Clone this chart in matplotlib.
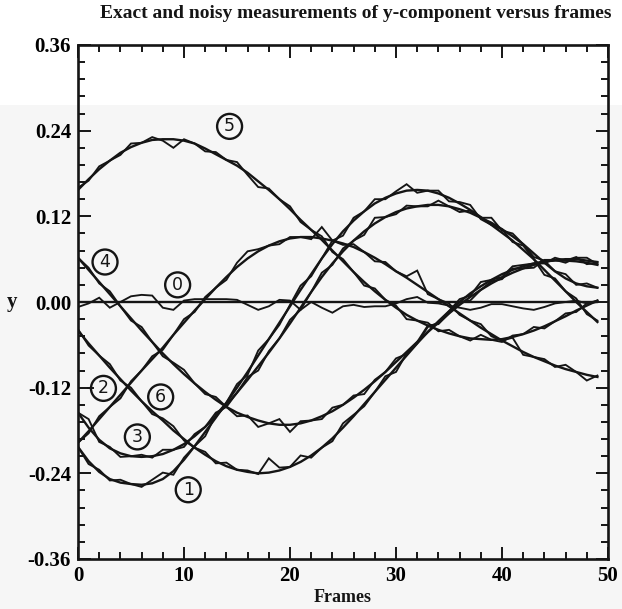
import matplotlib
matplotlib.use('Agg')
import matplotlib.pyplot as plt
from matplotlib.ticker import MultipleLocator
from matplotlib.patches import Rectangle

plt.rcParams['font.family'] = ['Liberation Serif', 'DejaVu Serif']
plt.rcParams['font.weight'] = 'bold'

# frame index for every sample
frames = list(range(50))

# exact y-component of the seven tracked points
exact_0 = [0.000, 0.000, 0.000, 0.000, 0.000, 0.000, 0.000, 0.000, 0.000, 0.000,
           0.000, 0.000, 0.000, 0.000, 0.000, 0.000, 0.000, 0.000, 0.000, 0.000,
           0.000, 0.000, 0.000, 0.000, 0.000, 0.000, 0.000, 0.000, 0.000, 0.000,
           0.000, 0.000, 0.000, 0.000, 0.000, 0.000, 0.000, 0.000, 0.000, 0.000,
           0.000, 0.000, 0.000, 0.000, 0.000, 0.000, 0.000, 0.000, 0.000, 0.000]
exact_1 = [-0.203, -0.223, -0.238, -0.248, -0.253, -0.255, -0.256, -0.254, -0.248, -0.237,
           -0.221, -0.202, -0.182, -0.162, -0.141, -0.120, -0.098, -0.075, -0.052, -0.029,
           -0.006, 0.017, 0.039, 0.061, 0.081, 0.099, 0.114, 0.127, 0.138, 0.146,
           0.152, 0.156, 0.157, 0.156, 0.152, 0.146, 0.138, 0.129, 0.119, 0.108,
           0.097, 0.086, 0.073, 0.060, 0.045, 0.030, 0.015, 0.000, -0.014, -0.028]
exact_2 = [-0.040, -0.058, -0.075, -0.092, -0.108, -0.124, -0.139, -0.153, -0.166, -0.180,
           -0.192, -0.204, -0.214, -0.223, -0.230, -0.235, -0.238, -0.240, -0.239, -0.236,
           -0.231, -0.224, -0.215, -0.204, -0.191, -0.176, -0.160, -0.143, -0.126, -0.109,
           -0.092, -0.075, -0.058, -0.042, -0.027, -0.013, 0.000, 0.012, 0.022, 0.031,
           0.039, 0.045, 0.050, 0.054, 0.057, 0.058, 0.058, 0.057, 0.055, 0.052]
exact_3 = [-0.155, -0.176, -0.193, -0.205, -0.212, -0.216, -0.217, -0.216, -0.213, -0.207,
           -0.199, -0.188, -0.175, -0.160, -0.144, -0.127, -0.109, -0.090, -0.071, -0.051,
           -0.030, -0.008, 0.014, 0.035, 0.054, 0.071, 0.086, 0.099, 0.110, 0.119,
           0.126, 0.131, 0.134, 0.136, 0.136, 0.134, 0.130, 0.125, 0.118, 0.111,
           0.102, 0.092, 0.081, 0.068, 0.055, 0.043, 0.033, 0.026, 0.022, 0.020]
exact_4 = [0.062, 0.045, 0.028, 0.011, -0.006, -0.023, -0.040, -0.056, -0.072, -0.087,
           -0.101, -0.114, -0.126, -0.137, -0.147, -0.155, -0.161, -0.166, -0.170, -0.172,
           -0.172, -0.170, -0.166, -0.160, -0.153, -0.144, -0.134, -0.123, -0.111, -0.098,
           -0.084, -0.070, -0.056, -0.042, -0.029, -0.016, -0.004, 0.007, 0.017, 0.026,
           0.034, 0.041, 0.047, 0.052, 0.056, 0.059, 0.060, 0.060, 0.058, 0.056]
exact_5 = [0.157, 0.172, 0.186, 0.198, 0.209, 0.217, 0.223, 0.227, 0.228, 0.228,
           0.226, 0.222, 0.215, 0.207, 0.199, 0.191, 0.181, 0.169, 0.157, 0.144,
           0.130, 0.115, 0.101, 0.087, 0.072, 0.057, 0.042, 0.028, 0.015, 0.003,
           -0.008, -0.018, -0.026, -0.033, -0.039, -0.044, -0.048, -0.051, -0.052, -0.053,
           -0.052, -0.049, -0.045, -0.040, -0.034, -0.027, -0.020, -0.012, -0.005, 0.002]
exact_6 = [-0.197, -0.181, -0.164, -0.147, -0.130, -0.113, -0.096, -0.080, -0.064, -0.046,
           -0.029, -0.012, 0.004, 0.020, 0.035, 0.049, 0.061, 0.071, 0.079, 0.085,
           0.089, 0.091, 0.091, 0.089, 0.086, 0.082, 0.077, 0.070, 0.062, 0.053,
           0.043, 0.034, 0.024, 0.014, 0.004, -0.006, -0.016, -0.026, -0.036, -0.045,
           -0.054, -0.062, -0.070, -0.077, -0.083, -0.089, -0.094, -0.098, -0.102, -0.105]

# noisy measurements of the same points
noisy_0 = [-0.007, -0.002, 0.006, -0.008, 0.000, 0.008, 0.010, 0.009, -0.008, -0.011,
           0.002, 0.004, 0.004, 0.004, 0.004, 0.003, -0.004, -0.011, -0.006, 0.003,
           0.002, -0.011, 0.000, -0.008, -0.015, -0.006, -0.004, -0.007, -0.006, -0.006,
           -0.002, 0.004, 0.007, -0.001, -0.002, -0.005, -0.008, -0.011, -0.008, -0.003,
           -0.003, -0.006, -0.009, -0.011, -0.007, -0.002, 0.000, 0.002, -0.002, 0.000]
noisy_1 = [-0.203, -0.227, -0.235, -0.250, -0.249, -0.255, -0.259, -0.249, -0.239, -0.242,
           -0.218, -0.202, -0.188, -0.158, -0.141, -0.115, -0.102, -0.068, -0.052, -0.032,
           -0.004, 0.023, 0.036, 0.061, 0.086, 0.093, 0.118, 0.127, 0.144, 0.144,
           0.155, 0.165, 0.153, 0.156, 0.156, 0.141, 0.140, 0.136, 0.116, 0.108,
           0.102, 0.084, 0.079, 0.060, 0.038, 0.033, 0.015, 0.005, -0.017, -0.026]
noisy_2 = [-0.038, -0.061, -0.075, -0.087, -0.110, -0.120, -0.139, -0.157, -0.163, -0.174,
           -0.194, -0.204, -0.210, -0.226, -0.225, -0.235, -0.236, -0.241, -0.219, -0.232,
           -0.231, -0.215, -0.218, -0.204, -0.195, -0.170, -0.158, -0.146, -0.126, -0.104,
           -0.098, -0.072, -0.058, -0.035, -0.029, -0.013, 0.004, 0.009, 0.028, 0.031,
           0.035, 0.050, 0.052, 0.054, 0.054, 0.062, 0.058, 0.063, 0.053, 0.055]
noisy_3 = [-0.155, -0.164, -0.196, -0.203, -0.217, -0.216, -0.214, -0.218, -0.207, -0.207,
           -0.203, -0.185, -0.175, -0.155, -0.147, -0.127, -0.105, -0.096, -0.069, -0.051,
           -0.025, -0.011, 0.014, 0.041, 0.052, 0.075, 0.086, 0.094, 0.118, 0.119,
           0.123, 0.135, 0.134, 0.134, 0.142, 0.134, 0.126, 0.128, 0.118, 0.118,
           0.100, 0.096, 0.081, 0.063, 0.058, 0.043, 0.039, 0.024, 0.026, 0.020]
noisy_4 = [0.062, 0.048, 0.026, 0.015, -0.006, -0.026, -0.035, -0.056, -0.076, -0.085,
           -0.095, -0.114, -0.129, -0.133, -0.147, -0.160, -0.159, -0.175, -0.170, -0.164,
           -0.182, -0.167, -0.166, -0.164, -0.148, -0.144, -0.131, -0.129, -0.109, -0.098,
           -0.079, -0.073, -0.056, -0.033, -0.031, -0.016, 0.000, 0.002, 0.017, 0.029,
           0.032, 0.047, 0.047, 0.048, 0.059, 0.059, 0.055, 0.062, 0.062, 0.053]
noisy_5 = [0.160, 0.170, 0.190, 0.198, 0.206, 0.222, 0.223, 0.231, 0.226, 0.216,
           0.228, 0.222, 0.211, 0.210, 0.199, 0.196, 0.178, 0.161, 0.159, 0.144,
           0.134, 0.112, 0.101, 0.092, 0.070, 0.060, 0.042, 0.023, 0.019, 0.003,
           -0.005, -0.024, -0.026, -0.029, -0.041, -0.039, -0.048, -0.054, -0.046, -0.053,
           -0.056, -0.047, -0.045, -0.035, -0.037, -0.027, -0.016, -0.014, -0.002, 0.002]
noisy_6 = [-0.197, -0.184, -0.160, -0.147, -0.135, -0.111, -0.096, -0.076, -0.067, -0.046,
           -0.024, -0.014, 0.007, 0.020, 0.031, 0.055, 0.071, 0.074, 0.079, 0.081,
           0.091, 0.091, 0.088, 0.105, 0.086, 0.080, 0.081, 0.070, 0.057, 0.056,
           0.043, 0.036, 0.044, 0.011, 0.004, -0.002, -0.018, -0.026, -0.031, -0.048,
           -0.054, -0.050, -0.074, -0.077, -0.080, -0.091, -0.088, -0.098, -0.110, -0.103]

exact_series = [exact_0, exact_1, exact_2, exact_3, exact_4, exact_5, exact_6]
noisy_series = [noisy_0, noisy_1, noisy_2, noisy_3, noisy_4, noisy_5, noisy_6]

point_names = ['0', '1', '2', '3', '4', '5', '6']
y_ticks = [-0.36, -0.24, -0.12, 0.00, 0.12, 0.24, 0.36]
y_tick_labels = ['-0.36', '-0.24', '-0.12', '0.00', '0.12', '0.24', '0.36']
x_ticks = [0, 10, 20, 30, 40, 50]

# where the hand-written circled point numbers sit (frame, y)
name_spots = {'0': (9.4, 0.024), '1': (10.4, -0.263), '2': (2.4, -0.121),
              '3': (5.6, -0.189), '4': (2.55, 0.056), '5': (14.3, 0.246),
              '6': (7.8, -0.133)}

ink = '#151515'

fig = plt.figure(figsize=(6.22, 6.09), dpi=100)
fig.patch.set_facecolor('#f6f6f6')
# paper is whiter near the top edge
fig.patches.append(Rectangle((0, 1 - 105 / 609), 1, 105 / 609, transform=fig.transFigure,
                             facecolor='white', edgecolor='none', zorder=-10))

ax = fig.add_axes([78 / 622, 50 / 609, 530 / 622, 514 / 609])
ax.set_facecolor('none')
ax.set_zorder(2)

for ex, ns in zip(exact_series, noisy_series):
    ax.plot(frames, ex, color=ink, linewidth=1.7, solid_joinstyle='round')
    ax.plot(frames, ns, color=ink, linewidth=1.35, solid_joinstyle='miter')

for name in point_names:
    fx, fy = name_spots[name]
    ax.text(fx, fy, name, ha='center', va='center', fontsize=12.5, color=ink,
            family='DejaVu Sans', fontweight='normal',
            bbox=dict(boxstyle='circle,pad=0.2', facecolor='none', edgecolor=ink, linewidth=1.7))

# little lead-in stroke before the circled 2
ax.plot([0.9, 1.45], [-0.121, -0.121], color=ink, linewidth=1.4)

ax.set_xlim(0, 50)
ax.set_ylim(-0.36, 0.36)
ax.set_xticks(x_ticks)
ax.set_xticklabels([str(t) for t in x_ticks])
ax.set_yticks(y_ticks)
ax.set_yticklabels(y_tick_labels)
ax.xaxis.set_minor_locator(MultipleLocator(2))
ax.yaxis.set_minor_locator(MultipleLocator(0.024))

ax.tick_params(which='both', direction='in', top=True, right=True, color=ink, width=1.4)
ax.tick_params(which='major', length=9, labelsize=15, pad=5)
ax.tick_params(which='minor', length=5)
for lbl in ax.get_xticklabels() + ax.get_yticklabels():
    lbl.set_fontweight('bold')

for side in ax.spines.values():
    side.set_linewidth(1.9)
    side.set_color(ink)

fig.text(356 / 622, 1 - 14 / 609, 'Exact and noisy measurements of y-component versus frames',
         ha='center', va='center', fontsize=14, fontweight='bold', color=ink)
fig.text(12 / 622, 1 - 302 / 609, 'y', ha='center', va='center', fontsize=15,
         fontweight='bold', color=ink)
fig.text(343 / 622, 1 - 598 / 609, 'Frames', ha='center', va='center', fontsize=13,
         fontweight='bold', color=ink)

fig.savefig('out.png', dpi=100, facecolor=fig.get_facecolor())
